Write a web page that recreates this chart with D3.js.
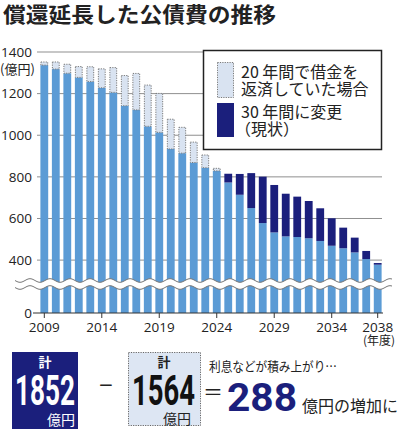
<!DOCTYPE html>
<html>
<head>
<meta charset="utf-8">
<script src="https://cdn.jsdelivr.net/npm/d3@7"></script>
<style>
body { margin: 0; background: #fff; }
svg { display: block; }
text { font-family: "Noto Sans CJK JP", "Noto Sans", sans-serif; }
</style>
</head>
<body>
<div id="chart"></div>
<script>
var outerW = 400,
	outerH = 429;

// Data (億円)
var years = [2009, 2010, 2011, 2012, 2013, 2014, 2015, 2016, 2017, 2018,
	2019, 2020, 2021, 2022, 2023, 2024, 2025, 2026, 2027, 2028,
	2029, 2030, 2031, 2032, 2033, 2034, 2035, 2036, 2037, 2038];
var baseValues = [1337, 1318, 1298, 1278, 1258, 1228, 1206, 1142, 1122, 1043,
	1014, 934, 914, 869, 844, 829, 773, 714, 650, 578,
	533, 514, 511, 505, 492, 469, 457, 437, 405, 378];
// 20年間で借金を返済していた場合
var plan20 = [1352, 1352, 1341, 1330, 1329, 1319, 1325, 1287, 1297, 1241,
	1201, 1077, 1038, 967, 905, 841];
// 30年間に変更（現状）
var plan30 = [815, 814, 818, 801, 761, 719, 705, 684, 649, 601, 556, 508, 444, 386];
var plan30Start = 2025;

var yTicks = [0, 400, 600, 800, 1000, 1200, 1400];
var xTicks = [2009, 2014, 2019, 2024, 2029, 2034, 2038];

var totals = {navy: "1852", light: "1564", diff: "288"};

var blue = "#5b9bd5",
	navy = "#1b1f7c",
	light = "#d9e3f1",
	grid = "#8f8f8f";
var numFont = "Roboto, 'Noto Sans', sans-serif";

var svg = d3.select("#chart")
	.append("svg")
	.attr("width", outerW)
	.attr("height", outerH)
	.attr("viewBox", "0 0 " + outerW + " " + outerH);

// Title
svg.append("text")
	.attr("x", 3)
	.attr("y", 22)
	.attr("font-size", 21)
	.attr("font-weight", "bold")
	.attr("fill", "#222")
	.attr("textLength", 273)
	.attr("lengthAdjust", "spacingAndGlyphs")
	.text("償還延長した公債費の推移");

// Scales (broken axis below ~290)
var x = d3.scaleBand()
	.domain(years)
	.range([38.55, 383.45])
	.paddingInner(0.32)
	.paddingOuter(0.16);

var y = d3.scaleLinear()
	.domain([0, 290, 1400])
	.range([313, 283, 52]);

// Grid lines
svg.append("g")
	.selectAll("line")
	.data(yTicks.filter(function(d) { return d > 0; }))
	.join("line")
	.attr("x1", 37)
	.attr("x2", 382)
	.attr("y1", function(d) { return y(d); })
	.attr("y2", function(d) { return y(d); })
	.attr("stroke", grid)
	.attr("stroke-width", 1);

// Bars
var bars = svg.append("g");
years.forEach(function(yr, i) {
	var b = baseValues[i];
	bars.append("rect")
		.attr("x", x(yr))
		.attr("y", y(b))
		.attr("width", x.bandwidth())
		.attr("height", y(0) - y(b))
		.attr("fill", blue);

	if (i < plan20.length) {
		bars.append("rect")
			.attr("x", x(yr) + 0.5)
			.attr("y", y(plan20[i]))
			.attr("width", x.bandwidth() - 1)
			.attr("height", y(b) - y(plan20[i]))
			.attr("fill", light)
			.attr("stroke", "#7a7a7a")
			.attr("stroke-width", 1)
			.attr("stroke-dasharray", "1.2,1.2");
	}
	var j = yr - plan30Start;
	if (j >= 0) {
		bars.append("rect")
			.attr("x", x(yr))
			.attr("y", y(plan30[j]))
			.attr("width", x.bandwidth())
			.attr("height", y(b) - y(plan30[j]))
			.attr("fill", navy);
	}
});

// Wavy axis break
var waveX0 = 15, waveX1 = 392, period = 20, amp = 1.8;
var waveTop = [], waveBot = [];
for (var px = waveX0; px <= waveX1; px += 1) {
	var s = Math.sin((px - waveX0) / period * 2 * Math.PI) * amp;
	waveTop.push([px, 280.5 + s]);
	waveBot.push([px, 287.5 + s]);
}
var line = d3.line();
svg.append("path")
	.attr("d", line(waveTop.concat(waveBot.slice().reverse())) + "Z")
	.attr("fill", "#fff");
svg.append("path")
	.attr("d", line(waveTop))
	.attr("fill", "none")
	.attr("stroke", "#777")
	.attr("stroke-width", 1);
svg.append("path")
	.attr("d", line(waveBot))
	.attr("fill", "none")
	.attr("stroke", "#777")
	.attr("stroke-width", 1);

// Axes
var xAxis = svg.append("g")
	.attr("transform", "translate(0," + y(0) + ")")
	.call(d3.axisBottom(x).tickValues(xTicks).tickSize(5).tickSizeOuter(0).tickPadding(4));
xAxis.select(".domain").remove();
xAxis.selectAll("line").attr("stroke", "#333");
xAxis.selectAll("text")
	.attr("font-size", 13.5)
	.attr("fill", "#222")
	.style("font-family", "'Open Sans', sans-serif");

svg.append("line")
	.attr("x1", 33)
	.attr("x2", 383)
	.attr("y1", y(0))
	.attr("y2", y(0))
	.attr("stroke", "#333")
	.attr("stroke-width", 1.2);

var yAxis = svg.append("g")
	.attr("transform", "translate(35,0)")
	.call(d3.axisLeft(y).tickValues(yTicks).tickFormat(d3.format("d")).tickSize(0).tickPadding(3));
yAxis.select(".domain").remove();
yAxis.selectAll("text")
	.attr("font-size", 13.5)
	.attr("fill", "#222")
	.style("font-family", "'Open Sans', sans-serif");

svg.append("text")
	.attr("x", 0)
	.attr("y", 74)
	.attr("font-size", 13)
	.attr("fill", "#222")
	.text("(億円)");

svg.append("text")
	.attr("x", 379)
	.attr("y", 345)
	.attr("font-size", 12)
	.attr("fill", "#222")
	.attr("text-anchor", "middle")
	.text("(年度)");

// Legend
var lg = svg.append("g");
lg.append("rect")
	.attr("x", 203.5)
	.attr("y", 50.5)
	.attr("width", 178)
	.attr("height", 99)
	.attr("fill", "#fff")
	.attr("stroke", "#222")
	.attr("stroke-width", 1.5);
lg.append("rect")
	.attr("x", 217.5)
	.attr("y", 62.5)
	.attr("width", 16)
	.attr("height", 35)
	.attr("fill", light)
	.attr("stroke", "#7a7a7a")
	.attr("stroke-dasharray", "1.2,1.2");
lg.append("rect")
	.attr("x", 217)
	.attr("y", 103)
	.attr("width", 17)
	.attr("height", 34)
	.attr("fill", navy);
var legendLines = [
	["20 年間で借金を", 78],
	["返済していた場合", 95],
	["30 年間に変更", 118],
	["（現状）", 135]
];
lg.selectAll("text.lg")
	.data(legendLines)
	.join("text")
	.attr("class", "lg")
	.attr("x", function(d) { return d[0].charAt(0) === "（" ? 235 : 241; })
	.attr("y", function(d) { return d[1]; })
	.attr("font-size", 16)
	.attr("fill", "#222")
	.text(function(d) { return d[0]; });

// Bottom summary
var sm = svg.append("g");
sm.append("rect")
	.attr("x", 12)
	.attr("y", 352)
	.attr("width", 66)
	.attr("height", 77)
	.attr("fill", navy);
sm.append("text")
	.attr("x", 45).attr("y", 367)
	.attr("text-anchor", "middle")
	.attr("font-size", 13).attr("font-weight", "bold")
	.attr("fill", "#fff")
	.text("計");
sm.append("text")
	.attr("x", 15).attr("y", 405)
	.attr("font-size", 42).attr("font-weight", "bold")
	.style("font-family", numFont)
	.attr("fill", "#fff")
	.attr("textLength", 60)
	.attr("lengthAdjust", "spacingAndGlyphs")
	.text(totals.navy);
sm.append("text")
	.attr("x", 61).attr("y", 425)
	.attr("text-anchor", "middle")
	.attr("font-size", 14)
	.attr("fill", "#fff")
	.text("億円");

sm.append("rect")
	.attr("x", 128.5)
	.attr("y", 352.5)
	.attr("width", 72)
	.attr("height", 73)
	.attr("fill", "#dde6f3")
	.attr("stroke", "#666")
	.attr("stroke-dasharray", "1.2,1.2");
sm.append("text")
	.attr("x", 164).attr("y", 367)
	.attr("text-anchor", "middle")
	.attr("font-size", 13).attr("font-weight", "bold")
	.attr("fill", "#222")
	.text("計");
sm.append("text")
	.attr("x", 132).attr("y", 405)
	.attr("font-size", 42).attr("font-weight", "bold")
	.style("font-family", numFont)
	.attr("fill", "#111")
	.attr("textLength", 63)
	.attr("lengthAdjust", "spacingAndGlyphs")
	.text(totals.light);
sm.append("text")
	.attr("x", 177).attr("y", 424)
	.attr("text-anchor", "middle")
	.attr("font-size", 14)
	.attr("fill", "#222")
	.text("億円");

sm.append("text")
	.attr("x", 106).attr("y", 394)
	.attr("text-anchor", "middle")
	.attr("font-size", 24)
	.attr("fill", "#222")
	.text("−");

sm.append("text")
	.attr("x", 209).attr("y", 371)
	.attr("font-size", 13)
	.attr("fill", "#222")
	.attr("textLength", 128)
	.attr("lengthAdjust", "spacingAndGlyphs")
	.text("利息などが積み上がり…");

sm.append("text")
	.attr("x", 213).attr("y", 400)
	.attr("text-anchor", "middle")
	.attr("font-size", 20)
	.attr("fill", "#222")
	.text("＝");
sm.append("text")
	.attr("x", 227).attr("y", 411)
	.attr("font-size", 38).attr("font-weight", "bold")
	.style("font-family", numFont)
	.attr("fill", navy)
	.attr("textLength", 70)
	.attr("lengthAdjust", "spacingAndGlyphs")
	.text(totals.diff);
sm.append("text")
	.attr("x", 302).attr("y", 412)
	.attr("font-size", 16)
	.attr("fill", "#222")
	.text("億円の増加に");
</script>
</body>
</html>
